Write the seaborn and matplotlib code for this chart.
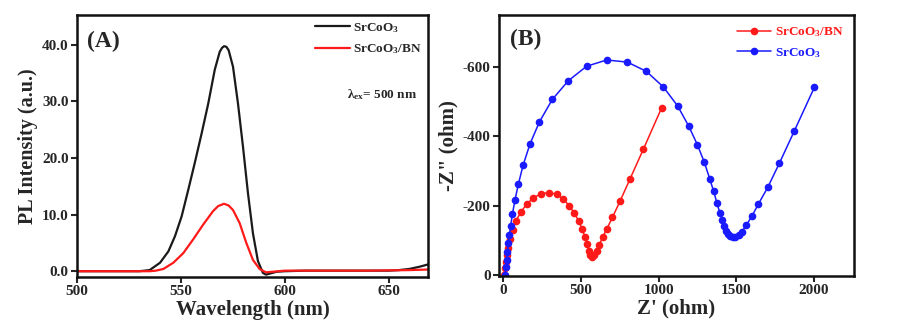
import matplotlib
matplotlib.use("Agg")
import matplotlib.pyplot as plt
import seaborn as sns
import numpy as np

# ---- Panel A data: PL spectra ----
wl_black = [500, 510, 520, 530, 535, 540, 544, 547.2, 550.4, 553.6, 556.7, 560, 563.2,
            566.3, 568.7, 569.8, 570.8, 571.9, 573, 575.1, 577.5, 579.9, 582.3, 584.7,
            587.1, 589.5, 591, 593, 596, 600, 610, 620, 630, 640, 650, 655, 660, 665, 669]
pl_black = [0.0, 0.0, 0.0, 0.0, 0.2, 1.5, 3.5, 6.2, 9.7, 14.4, 19.1, 24.3, 29.6,
            35.5, 38.7, 39.4, 39.7, 39.6, 39.0, 36.1, 29.6, 22.0, 13.8, 6.7,
            1.8, -0.3, -0.6, -0.4, -0.1, 0.0, 0.1, 0.1, 0.1, 0.1, 0.1, 0.2, 0.4, 0.8, 1.2]

wl_red = [500, 510, 520, 530, 535, 538, 541.6, 546.4, 551.2, 555.9, 560.7, 565.5, 568,
          570.8, 573, 575.1, 578.3, 581.5, 584.7, 587.9, 591, 594, 600, 620, 640, 660, 669]
pl_red = [0.0, 0.0, 0.0, 0.0, 0.0, 0.1, 0.4, 1.5, 3.2, 5.6, 8.2, 10.6, 11.5,
          11.9, 11.6, 10.8, 8.5, 5.0, 2.0, 0.4, -0.2, -0.1, 0.1, 0.1, 0.1, 0.2, 0.3]

# ---- Panel B data: Nyquist plots (Z' , -Z'') ----
zre_bn = [4, 11, 16, 21, 32, 45, 60, 82, 114, 150, 193, 240, 294, 343, 386, 425, 457,
          485, 506, 526, 539, 549, 560, 573, 586, 601, 618, 639, 665, 702, 751, 815, 901, 1019]
zim_bn = [0, 19, 38, 58, 77, 103, 130, 157, 182, 205, 222, 234, 238, 233, 219, 199, 178,
          156, 132, 109, 89, 70, 58, 53, 58, 70, 87, 109, 132, 166, 213, 277, 363, 483]

zre_sc = [10, 17, 21, 26, 32, 39, 47, 58, 75, 97, 127, 172, 232, 315, 418, 536, 665,
          798, 921, 1030, 1122, 1193, 1249, 1294, 1328, 1354, 1375, 1393, 1410, 1421,
          1431, 1444, 1459, 1476, 1494, 1515, 1536, 1564, 1599, 1642, 1702, 1777, 1873, 2002]
zim_sc = [0, 24, 43, 67, 91, 116, 142, 175, 217, 263, 317, 379, 442, 507, 561, 603, 621,
          615, 588, 543, 488, 430, 376, 325, 278, 241, 207, 180, 159, 140,
          128, 118, 113, 109, 109, 115, 125, 144, 169, 205, 253, 323, 416, 542]

xticks_a = [500, 550, 600, 650]
yticks_a = [0, 10, 20, 30, 40]
xticks_b = [0, 500, 1000, 1500, 2000]
yticks_b = [0, -200, -400, -600]

sns.set_style("ticks")
plt.rcParams['font.family'] = ['Liberation Serif', 'DejaVu Serif']
plt.rcParams['font.weight'] = 'bold'
plt.rcParams['mathtext.fontset'] = 'custom'
plt.rcParams['mathtext.rm'] = 'Liberation Serif:bold'
plt.rcParams['mathtext.it'] = 'Liberation Serif:bold'
plt.rcParams['mathtext.bf'] = 'Liberation Serif:bold'
plt.rcParams['mathtext.default'] = 'rm'

fig = plt.figure(figsize=(8.98, 3.34), dpi=100)
axA = fig.add_axes([0.0857, 0.171, 0.391, 0.784])
axB = fig.add_axes([0.5557, 0.174, 0.3953, 0.781])

# Panel A
sns.lineplot(x=wl_black, y=pl_black, ax=axA, color='#1a1a1a', lw=1.6, label=r'SrCoO$_3$', sort=False)
sns.lineplot(x=wl_red, y=pl_red, ax=axA, color='#ff1a1a', lw=1.6, label=r'SrCoO$_3$/BN', sort=False)
axA.set_xlim(500, 669)
axA.set_ylim(-1, 45.2)
axA.set_xticks(xticks_a)
axA.set_yticks(yticks_a)
axA.set_yticklabels([f"{v:.1f}" for v in yticks_a])
axA.set_xlabel('Wavelength (nm)', fontsize=15, fontweight='bold', labelpad=1)
axA.set_ylabel('PL Intensity (a.u.)', fontsize=14.5, fontweight='bold', labelpad=3)
axA.text(0.03, 0.9, '(A)', transform=axA.transAxes, fontsize=17, fontweight='bold', va='center')
axA.text(0.77, 0.695, r'λ$_{ex}$= 500 nm', transform=axA.transAxes, fontsize=9.5, fontweight='bold', va='center')
legA = axA.legend(loc='upper right', frameon=False, fontsize=9.5, handlelength=2.6,
                  handletextpad=0.3, borderaxespad=0.05, labelspacing=0.6)

# Panel B
sns.lineplot(x=zre_bn, y=[-v for v in zim_bn], ax=axB, color='#ff1a1a', lw=1.1, marker='o',
             markersize=5.5, markeredgewidth=0, sort=False, estimator=None, label=r'SrCoO$_3$/BN')
sns.lineplot(x=zre_sc, y=[-v for v in zim_sc], ax=axB, color='#1a1aff', lw=1.1, marker='o',
             markersize=5.5, markeredgewidth=0, sort=False, estimator=None, label=r'SrCoO$_3$')
axB.set_xlim(-28, 2257)
axB.set_ylim(3, -751)
axB.set_xticks(xticks_b)
axB.set_yticks(yticks_b)
axB.set_yticklabels([str(v) for v in yticks_b])
axB.set_xlabel("Z' (ohm)", fontsize=15, fontweight='bold', labelpad=1)
axB.set_ylabel('-Z" (ohm)', fontsize=15, fontweight='bold', labelpad=3)
axB.text(0.03, 0.905, '(B)', transform=axB.transAxes, fontsize=17, fontweight='bold', va='center')
legB = axB.legend(loc='upper right', frameon=False, fontsize=9.5, handlelength=2.6,
                  handletextpad=0.3, borderaxespad=0.4, labelspacing=0.5)
for t, c in zip(legB.get_texts(), ['#ff1a1a', '#1a1aff']):
    t.set_color(c)

for ax in (axA, axB):
    for s in ax.spines.values():
        s.set_visible(True)
        s.set_linewidth(1.8)
        s.set_color('#111111')
    ax.tick_params(direction='out', length=4, width=1.5, labelsize=11, pad=2)
    for lab in ax.get_xticklabels() + ax.get_yticklabels():
        lab.set_fontweight('bold')

fig.savefig('out.png', dpi=100)
